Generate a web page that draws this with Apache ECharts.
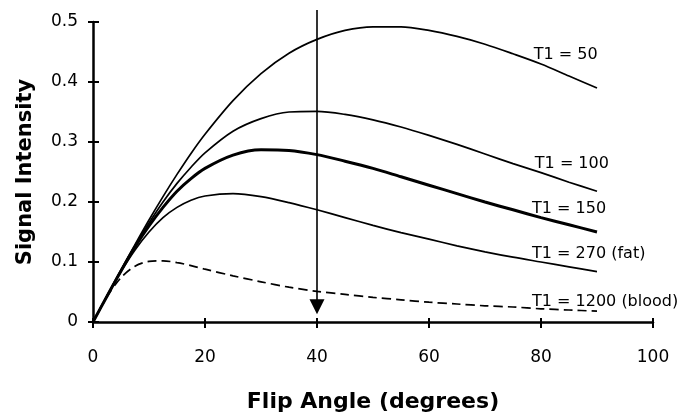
<!DOCTYPE html>
<html>
<head>
<meta charset="utf-8">
<script src="https://cdn.jsdelivr.net/npm/echarts@6/dist/echarts.min.js"></script>
<style>
  html, body { margin: 0; padding: 0; background: #fff; }
  #chart { width: 699px; height: 418px; }
</style>
</head>
<body>
<div id="chart"></div>
<script>
// Flip angle (degrees)
var angles = [0, 2.5, 5, 7.5, 10, 12.5, 15, 17.5, 20, 25, 30, 35, 40, 45, 50, 55, 60, 65, 70, 75, 80, 85, 90];
// Signal intensity
var t1_50   = [0, 0.044, 0.087, 0.129, 0.170, 0.209, 0.246, 0.281, 0.313, 0.369, 0.414, 0.448, 0.471, 0.486, 0.492, 0.492, 0.486, 0.476, 0.463, 0.447, 0.430, 0.410, 0.390];
var t1_100  = [0, 0.043, 0.086, 0.127, 0.165, 0.200, 0.231, 0.258, 0.282, 0.318, 0.339, 0.350, 0.351, 0.346, 0.337, 0.325, 0.311, 0.296, 0.280, 0.264, 0.249, 0.233, 0.218];
var t1_150  = [0, 0.043, 0.085, 0.125, 0.160, 0.191, 0.218, 0.239, 0.256, 0.278, 0.287, 0.286, 0.279, 0.268, 0.256, 0.242, 0.228, 0.214, 0.200, 0.187, 0.174, 0.162, 0.150];
var t1_270  = [0, 0.043, 0.084, 0.120, 0.150, 0.174, 0.191, 0.203, 0.210, 0.214, 0.209, 0.199, 0.187, 0.174, 0.161, 0.149, 0.138, 0.127, 0.117, 0.108, 0.100, 0.092, 0.084];
var t1_1200 = [0, 0.042, 0.074, 0.093, 0.101, 0.102, 0.099, 0.094, 0.088, 0.077, 0.067, 0.058, 0.051, 0.046, 0.041, 0.037, 0.033, 0.030, 0.027, 0.025, 0.022, 0.020, 0.018];

var seriesNames = ['T1 = 50', 'T1 = 100', 'T1 = 150', 'T1 = 270 (fat)', 'T1 = 1200 (blood)'];
var xTicks = [0, 20, 40, 60, 80, 100];
var yTicks = [0, 0.1, 0.2, 0.3, 0.4, 0.5];
// Arrow at 40 degrees: [angle, top value, tip value]
var arrow = [[40, 0.52, 0.013]];

var FONT = '"DejaVu Sans", sans-serif';

function pairs(vals) {
  return angles.map(function (a, i) { return [a, vals[i]]; });
}

function labelPoint(text, coord) {
  return {
    symbol: 'circle', symbolSize: 0, silent: true,
    label: { show: true, position: 'right', distance: 0, color: '#000', fontFamily: FONT, fontSize: 16 },
    data: [{ coord: coord, value: text, label: { formatter: text } }]
  };
}

function lineSeries(name, vals, width, dashed, labelCoord) {
  return {
    name: name, type: 'line', data: pairs(vals), smooth: 0.3,
    showSymbol: false, silent: true, clip: false,
    lineStyle: { color: '#000', width: width, type: dashed ? [9, 5] : 'solid' },
    markPoint: labelPoint(name, labelCoord)
  };
}

var series = [
  lineSeries(seriesNames[0], t1_50, 1.7, false, [78.7, 0.445]),
  lineSeries(seriesNames[1], t1_100, 1.7, false, [78.9, 0.264]),
  lineSeries(seriesNames[2], t1_150, 3, false, [78.4, 0.188]),
  lineSeries(seriesNames[3], t1_270, 1.7, false, [78.4, 0.113]),
  lineSeries(seriesNames[4], t1_1200, 1.7, true, [78.4, 0.034]),
  {
    type: 'custom', silent: true, clip: false, data: arrow,
    encode: { x: 0, y: [1, 2] },
    renderItem: function (params, api) {
      var top = api.coord([api.value(0), api.value(1)]);
      var tip = api.coord([api.value(0), api.value(2)]);
      var h = 15, w = 7.5;
      return {
        type: 'group',
        children: [
          { type: 'line', shape: { x1: top[0], y1: top[1], x2: tip[0], y2: tip[1] - h + 1 },
            style: { stroke: '#000', lineWidth: 1.6 } },
          { type: 'polygon', shape: { points: [[tip[0] - w, tip[1] - h], [tip[0] + w, tip[1] - h], [tip[0], tip[1]]] },
            style: { fill: '#000' } }
        ]
      };
    }
  }
];

var axisCommonX = { type: 'value', min: 0, max: 100, interval: 20 };
var axisCommonY = { type: 'value', min: 0, max: 0.5, interval: 0.1 };

var option = {
  animation: false,
  backgroundColor: '#fff',
  grid: { left: 93, right: 46, top: 22, bottom: 92, containLabel: false },
  xAxis: [
    Object.assign({}, axisCommonX, {
      position: 'bottom',
      name: 'Flip Angle (degrees)', nameLocation: 'middle', nameGap: 69,
      nameTextStyle: { color: '#000', fontFamily: FONT, fontSize: 22, fontWeight: 'bold' },
      axisLine: { show: true, onZero: false, lineStyle: { color: '#000', width: 2.5 } },
      axisTick: { show: true, inside: false, length: 6, lineStyle: { color: '#000', width: 2 } },
      axisLabel: { color: '#000', fontFamily: FONT, fontSize: 17, margin: 27,
        formatter: function (v) { return xTicks.indexOf(v) >= 0 ? String(v) : ''; } },
      splitLine: { show: false }
    }),
    Object.assign({}, axisCommonX, {
      position: 'bottom', offset: 0,
      axisLine: { show: false },
      axisTick: { show: true, inside: true, length: 4, lineStyle: { color: '#000', width: 2 } },
      axisLabel: { show: false }, splitLine: { show: false }
    })
  ],
  yAxis: [
    Object.assign({}, axisCommonY, {
      position: 'left',
      name: 'Signal Intensity', nameLocation: 'middle', nameGap: 57,
      nameTextStyle: { color: '#000', fontFamily: FONT, fontSize: 21, fontWeight: 'bold' },
      axisLine: { show: true, onZero: false, lineStyle: { color: '#000', width: 2.5 } },
      axisTick: { show: true, inside: false, length: 5, lineStyle: { color: '#000', width: 2 } },
      axisLabel: { color: '#000', fontFamily: FONT, fontSize: 17, margin: 15,
        formatter: function (v) {
          for (var i = 0; i < yTicks.length; i++) { if (Math.abs(yTicks[i] - v) < 1e-9) return String(yTicks[i]); }
          return '';
        } },
      splitLine: { show: false }
    }),
    Object.assign({}, axisCommonY, {
      position: 'left', offset: 0,
      axisLine: { show: false },
      axisTick: { show: true, inside: true, length: 6, lineStyle: { color: '#000', width: 2 } },
      axisLabel: { show: false }, splitLine: { show: false }
    })
  ],
  series: series
};

var chart = echarts.init(document.getElementById('chart'), null, { renderer: 'canvas' });
chart.setOption(option);
</script>
</body>
</html>
